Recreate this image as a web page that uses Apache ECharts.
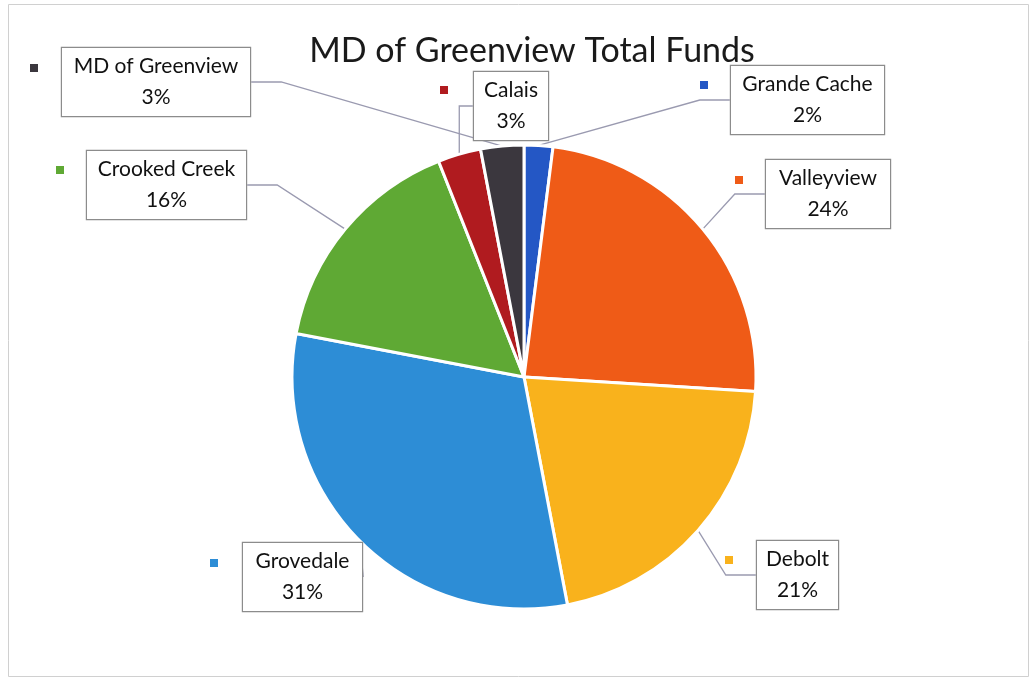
<!DOCTYPE html>
<html>
<head>
<meta charset="utf-8">
<script src="https://cdn.jsdelivr.net/npm/echarts@6/dist/echarts.min.js"></script>
<style>
html,body{margin:0;padding:0;background:#fff;}
#chart{width:1031px;height:679px;}
</style>
</head>
<body>
<div id="chart"></div>
<script>
// ---- data ----
var categories = ['Grande Cache', 'Valleyview', 'Debolt', 'Grovedale', 'Crooked Creek', 'Calais', 'MD of Greenview'];
var values = [2, 24, 21, 31, 16, 3, 3];
var colors = ['#2457c5', '#ef5b17', '#f9b21c', '#2d8dd6', '#5fa934', '#b01b1f', '#3b373e'];
var title = 'MD of Greenview Total Funds';

// label box top-left positions (layout only)
var boxPos = [[731, 66], [766, 160], [757, 541], [243, 543], [87, 151], [474, 72], [62, 48]];
var boxW = [153, 124, 81, 119, 159, 74, 188];
var squarePos = [[700, 81], [735, 176], [725, 556], [210, 559], [56, 166], [440, 86], [30, 64]];

var data = categories.map(function (c, i) {
  return { name: c, value: values[i], itemStyle: { color: colors[i] } };
});
var keyData = categories.map(function (c, i) {
  return {
    name: c, value: values[i],
    itemStyle: { color: 'rgba(0,0,0,0)', borderWidth: 0 },
    label: { backgroundColor: colors[i] }
  };
});

var FONT = 'Lato, "Open Sans", sans-serif';

var chart = echarts.init(document.getElementById('chart'), null, { renderer: 'canvas' });
chart.setOption({
  backgroundColor: '#ffffff',
  animation: false,
  title: {
    text: title,
    left: 527,
    textAlign: 'center',
    top: 29,
    textStyle: { fontFamily: FONT, fontSize: 34, fontWeight: 'normal', color: '#1a1a1a' }
  },
  graphic: [{
    type: 'rect',
    shape: { x: 8.5, y: 4.5, width: 1020, height: 672 },
    style: { fill: 'none', stroke: '#d0d0d0', lineWidth: 1 },
    silent: true
  }],
  series: [
    {
      type: 'pie',
      center: [524, 377],
      radius: [0, 232],
      startAngle: 90,
      clockwise: true,
      data: data,
      itemStyle: { borderColor: '#ffffff', borderWidth: 3 },
      label: {
        show: true,
        formatter: function (p) { return p.name + '\n' + Math.round(p.value) + '%'; },
        fontFamily: FONT,
        fontSize: 21,
        lineHeight: 31,
        color: '#111',
        align: 'center',
        backgroundColor: '#ffffff',
        borderColor: '#8c8c8c',
        borderWidth: 1.2,
        padding: [3, 5, 3, 5]
      },
      labelLine: {
        show: true,
        lineStyle: { color: '#9a9ab0', width: 1.3 }
      },
      labelLayout: function (p) {
        var i = p.dataIndex;
        return {
          x: boxPos[i][0] + boxW[i] / 2,
          y: boxPos[i][1],
          align: 'center',
          verticalAlign: 'top',
          width: boxW[i] - 10
        };
      }
    },
    {
      type: 'pie',
      center: [524, 377],
      radius: [0, 232],
      startAngle: 90,
      clockwise: true,
      silent: true,
      z: 1,
      data: keyData,
      label: {
        show: true,
        formatter: '{sq|}',
        rich: { sq: { width: 8, height: 8 } },
        padding: 0
      },
      labelLine: { show: false },
      labelLayout: function (p) {
        var i = p.dataIndex;
        return { x: squarePos[i][0], y: squarePos[i][1], align: 'left', verticalAlign: 'top' };
      }
    }
  ]
});
</script>
</body>
</html>
